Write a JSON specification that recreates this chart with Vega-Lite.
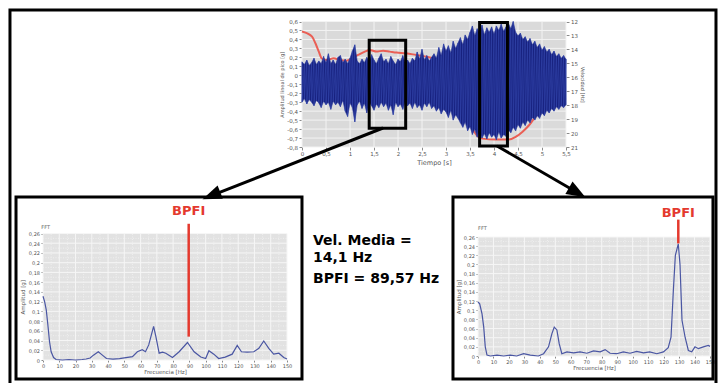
{
  "$schema": "https://vega.github.io/schema/vega-lite/v6.json",
  "width": 718,
  "height": 383,
  "autosize": {"type": "none"},
  "padding": 0,
  "background": "white",
  "config": {
    "view": {"stroke": null},
    "font": "DejaVu Sans",
    "locale": {"number": {"decimal": ",", "thousands": ".", "grouping": [3], "currency": ["", " €"], "minus": "-"}},
    "axis": {
      "labelFont": "DejaVu Sans", "labelFontSize": 5, "labelColor": "#555555",
      "titleFont": "DejaVu Sans", "titleFontSize": 5.5, "titleFontWeight": "normal", "titleColor": "#555555",
      "tickColor": "#8a8a8a", "tickSize": 2, "domain": false, "grid": false,
      "labelPadding": 1.5, "labelOverlap": false, "labelFlush": false
    }
  },
  "data": {"values": [{}]},
  "datasets": {
    "tGrid": [{"t": 0}, {"t": 0.5}, {"t": 1}, {"t": 1.5}, {"t": 2}, {"t": 2.5}, {"t": 3}, {"t": 3.5}, {"t": 4}, {"t": 4.5}, {"t": 5}, {"t": 5.5}],
    "aGrid": [{"a": -0.8}, {"a": -0.7}, {"a": -0.6}, {"a": -0.5}, {"a": -0.4}, {"a": -0.3}, {"a": -0.2}, {"a": -0.1}, {"a": 0}, {"a": 0.1}, {"a": 0.2}, {"a": 0.3}, {"a": 0.4}, {"a": 0.5}, {"a": 0.6}],
    "fGrid": [{"f": 0}, {"f": 10}, {"f": 20}, {"f": 30}, {"f": 40}, {"f": 50}, {"f": 60}, {"f": 70}, {"f": 80}, {"f": 90}, {"f": 100}, {"f": 110}, {"f": 120}, {"f": 130}, {"f": 140}, {"f": 150}],
    "fMinor": [{"f": 5}, {"f": 15}, {"f": 25}, {"f": 35}, {"f": 45}, {"f": 55}, {"f": 65}, {"f": 75}, {"f": 85}, {"f": 95}, {"f": 105}, {"f": 115}, {"f": 125}, {"f": 135}, {"f": 145}],
    "gGrid": [{"g": 0}, {"g": 0.02}, {"g": 0.04}, {"g": 0.06}, {"g": 0.08}, {"g": 0.1}, {"g": 0.12}, {"g": 0.14}, {"g": 0.16}, {"g": 0.18}, {"g": 0.2}, {"g": 0.22}, {"g": 0.24}, {"g": 0.26}],
    "gMinor": [{"g": 0.01}, {"g": 0.03}, {"g": 0.05}, {"g": 0.07}, {"g": 0.09}, {"g": 0.11}, {"g": 0.13}, {"g": 0.15}, {"g": 0.17}, {"g": 0.19}, {"g": 0.21}, {"g": 0.23}, {"g": 0.25}],
    "velocidad": [
      {"t": 0, "hz": 12.72}, {"t": 0.1, "hz": 12.84}, {"t": 0.21, "hz": 13.08}, {"t": 0.28, "hz": 13.56},
      {"t": 0.35, "hz": 14.16}, {"t": 0.41, "hz": 14.64}, {"t": 0.52, "hz": 14.76}, {"t": 0.66, "hz": 14.64},
      {"t": 0.79, "hz": 14.76}, {"t": 0.93, "hz": 14.81}, {"t": 1.04, "hz": 14.64}, {"t": 1.17, "hz": 14.4},
      {"t": 1.31, "hz": 14.16}, {"t": 1.41, "hz": 14.04}, {"t": 1.55, "hz": 14.16}, {"t": 1.69, "hz": 14.09},
      {"t": 1.83, "hz": 14.16}, {"t": 1.97, "hz": 14.23}, {"t": 2.17, "hz": 14.28}, {"t": 2.38, "hz": 14.4},
      {"t": 2.59, "hz": 14.52}, {"t": 2.73, "hz": 14.64}, {"t": 2.86, "hz": 14.88}, {"t": 3.0, "hz": 15.36},
      {"t": 3.14, "hz": 16.32}, {"t": 3.31, "hz": 18.12}, {"t": 3.42, "hz": 18.84}, {"t": 3.55, "hz": 19.68},
      {"t": 3.66, "hz": 20.23}, {"t": 3.76, "hz": 20.4}, {"t": 4.04, "hz": 20.47}, {"t": 4.31, "hz": 20.47},
      {"t": 4.45, "hz": 20.28}, {"t": 4.59, "hz": 19.92}, {"t": 4.73, "hz": 19.44}, {"t": 4.86, "hz": 18.84},
      {"t": 5.0, "hz": 18.24}, {"t": 5.2, "hz": 17.8}, {"t": 5.5, "hz": 17.5}
    ],
    "senal": [
      {"t": 0.00, "hi": 0.15, "lo": -0.30}, {"t": 0.05, "hi": 0.12, "lo": -0.26}, {"t": 0.10, "hi": 0.17, "lo": -0.32},
      {"t": 0.15, "hi": 0.11, "lo": -0.27}, {"t": 0.20, "hi": 0.14, "lo": -0.30}, {"t": 0.25, "hi": 0.19, "lo": -0.34},
      {"t": 0.30, "hi": 0.12, "lo": -0.28}, {"t": 0.35, "hi": 0.16, "lo": -0.31}, {"t": 0.40, "hi": 0.13, "lo": -0.36},
      {"t": 0.45, "hi": 0.21, "lo": -0.29}, {"t": 0.50, "hi": 0.14, "lo": -0.33}, {"t": 0.55, "hi": 0.24, "lo": -0.30},
      {"t": 0.60, "hi": 0.13, "lo": -0.38}, {"t": 0.65, "hi": 0.17, "lo": -0.29}, {"t": 0.70, "hi": 0.12, "lo": -0.33},
      {"t": 0.75, "hi": 0.20, "lo": -0.30}, {"t": 0.80, "hi": 0.22, "lo": -0.35}, {"t": 0.85, "hi": 0.14, "lo": -0.28},
      {"t": 0.90, "hi": 0.18, "lo": -0.40}, {"t": 0.95, "hi": 0.13, "lo": -0.46}, {"t": 1.00, "hi": 0.19, "lo": -0.31},
      {"t": 1.05, "hi": 0.27, "lo": -0.36}, {"t": 1.10, "hi": 0.34, "lo": -0.52}, {"t": 1.15, "hi": 0.16, "lo": -0.33},
      {"t": 1.20, "hi": 0.13, "lo": -0.29}, {"t": 1.25, "hi": 0.18, "lo": -0.37}, {"t": 1.30, "hi": 0.14, "lo": -0.31},
      {"t": 1.35, "hi": 0.20, "lo": -0.42}, {"t": 1.40, "hi": 0.15, "lo": -0.30}, {"t": 1.45, "hi": 0.23, "lo": -0.34},
      {"t": 1.50, "hi": 0.17, "lo": -0.39}, {"t": 1.55, "hi": 0.13, "lo": -0.32}, {"t": 1.60, "hi": 0.19, "lo": -0.36},
      {"t": 1.65, "hi": 0.24, "lo": -0.30}, {"t": 1.70, "hi": 0.15, "lo": -0.35}, {"t": 1.75, "hi": 0.18, "lo": -0.31},
      {"t": 1.80, "hi": 0.13, "lo": -0.39}, {"t": 1.85, "hi": 0.21, "lo": -0.33}, {"t": 1.90, "hi": 0.16, "lo": -0.44},
      {"t": 1.95, "hi": 0.12, "lo": -0.30}, {"t": 2.00, "hi": 0.18, "lo": -0.35}, {"t": 2.05, "hi": 0.15, "lo": -0.32},
      {"t": 2.10, "hi": 0.22, "lo": -0.38}, {"t": 2.15, "hi": 0.14, "lo": -0.29}, {"t": 2.20, "hi": 0.17, "lo": -0.34},
      {"t": 2.25, "hi": 0.13, "lo": -0.31}, {"t": 2.30, "hi": 0.19, "lo": -0.37}, {"t": 2.35, "hi": 0.16, "lo": -0.30},
      {"t": 2.40, "hi": 0.26, "lo": -0.36}, {"t": 2.45, "hi": 0.18, "lo": -0.33}, {"t": 2.50, "hi": 0.29, "lo": -0.39},
      {"t": 2.55, "hi": 0.17, "lo": -0.31}, {"t": 2.60, "hi": 0.22, "lo": -0.35}, {"t": 2.65, "hi": 0.16, "lo": -0.30},
      {"t": 2.70, "hi": 0.20, "lo": -0.37}, {"t": 2.75, "hi": 0.24, "lo": -0.34}, {"t": 2.80, "hi": 0.19, "lo": -0.40},
      {"t": 2.85, "hi": 0.31, "lo": -0.36}, {"t": 2.90, "hi": 0.22, "lo": -0.43}, {"t": 2.95, "hi": 0.35, "lo": -0.38},
      {"t": 3.00, "hi": 0.27, "lo": -0.41}, {"t": 3.05, "hi": 0.33, "lo": -0.47}, {"t": 3.10, "hi": 0.25, "lo": -0.39},
      {"t": 3.15, "hi": 0.38, "lo": -0.50}, {"t": 3.20, "hi": 0.30, "lo": -0.44}, {"t": 3.25, "hi": 0.36, "lo": -0.48},
      {"t": 3.30, "hi": 0.42, "lo": -0.53}, {"t": 3.35, "hi": 0.34, "lo": -0.58}, {"t": 3.40, "hi": 0.45, "lo": -0.52},
      {"t": 3.45, "hi": 0.40, "lo": -0.62}, {"t": 3.50, "hi": 0.48, "lo": -0.57}, {"t": 3.55, "hi": 0.55, "lo": -0.66},
      {"t": 3.60, "hi": 0.44, "lo": -0.60}, {"t": 3.65, "hi": 0.52, "lo": -0.69}, {"t": 3.70, "hi": 0.47, "lo": -0.63},
      {"t": 3.75, "hi": 0.56, "lo": -0.70}, {"t": 3.80, "hi": 0.45, "lo": -0.65}, {"t": 3.85, "hi": 0.53, "lo": -0.71},
      {"t": 3.90, "hi": 0.48, "lo": -0.64}, {"t": 3.95, "hi": 0.54, "lo": -0.69}, {"t": 4.00, "hi": 0.46, "lo": -0.66},
      {"t": 4.05, "hi": 0.55, "lo": -0.72}, {"t": 4.10, "hi": 0.50, "lo": -0.63}, {"t": 4.15, "hi": 0.57, "lo": -0.70},
      {"t": 4.20, "hi": 0.49, "lo": -0.66}, {"t": 4.25, "hi": 0.54, "lo": -0.68}, {"t": 4.30, "hi": 0.58, "lo": -0.61},
      {"t": 4.35, "hi": 0.52, "lo": -0.64}, {"t": 4.40, "hi": 0.60, "lo": -0.58}, {"t": 4.45, "hi": 0.48, "lo": -0.62},
      {"t": 4.50, "hi": 0.44, "lo": -0.55}, {"t": 4.55, "hi": 0.47, "lo": -0.59}, {"t": 4.60, "hi": 0.40, "lo": -0.52},
      {"t": 4.65, "hi": 0.43, "lo": -0.56}, {"t": 4.70, "hi": 0.37, "lo": -0.50}, {"t": 4.75, "hi": 0.41, "lo": -0.53},
      {"t": 4.80, "hi": 0.34, "lo": -0.47}, {"t": 4.85, "hi": 0.38, "lo": -0.50}, {"t": 4.90, "hi": 0.31, "lo": -0.45},
      {"t": 4.95, "hi": 0.35, "lo": -0.48}, {"t": 5.00, "hi": 0.28, "lo": -0.42}, {"t": 5.05, "hi": 0.32, "lo": -0.45},
      {"t": 5.10, "hi": 0.26, "lo": -0.39}, {"t": 5.15, "hi": 0.29, "lo": -0.42}, {"t": 5.20, "hi": 0.23, "lo": -0.37},
      {"t": 5.25, "hi": 0.27, "lo": -0.40}, {"t": 5.30, "hi": 0.21, "lo": -0.35}, {"t": 5.35, "hi": 0.24, "lo": -0.38},
      {"t": 5.40, "hi": 0.19, "lo": -0.34}, {"t": 5.45, "hi": 0.22, "lo": -0.36}, {"t": 5.50, "hi": 0.18, "lo": -0.33}
    ],
    "ventanas": [
      {"t0": 1.4, "t1": 2.16, "a0": -0.59, "a1": 0.39},
      {"t0": 3.7, "t1": 4.28, "a0": -0.79, "a1": 0.59}
    ],
    "fftLenta": [
      {"f": 0, "amp": 0.131}, {"f": 1, "amp": 0.12}, {"f": 2, "amp": 0.103}, {"f": 3, "amp": 0.072},
      {"f": 4, "amp": 0.038}, {"f": 5, "amp": 0.017}, {"f": 6.5, "amp": 0.005}, {"f": 8, "amp": 0.001},
      {"f": 12, "amp": 0.0}, {"f": 16, "amp": 0.001}, {"f": 20, "amp": 0.0}, {"f": 24, "amp": 0.001},
      {"f": 26.5, "amp": 0.002}, {"f": 29, "amp": 0.004}, {"f": 31, "amp": 0.01}, {"f": 34, "amp": 0.017},
      {"f": 36.5, "amp": 0.01}, {"f": 39, "amp": 0.003}, {"f": 43, "amp": 0.002}, {"f": 47, "amp": 0.003},
      {"f": 51, "amp": 0.005}, {"f": 55, "amp": 0.007}, {"f": 58, "amp": 0.017}, {"f": 61, "amp": 0.021},
      {"f": 63, "amp": 0.017}, {"f": 65, "amp": 0.031}, {"f": 68, "amp": 0.069}, {"f": 69.4, "amp": 0.048},
      {"f": 71.4, "amp": 0.014}, {"f": 73.5, "amp": 0.016}, {"f": 75.5, "amp": 0.014}, {"f": 79.6, "amp": 0.005},
      {"f": 83.7, "amp": 0.017}, {"f": 88.8, "amp": 0.036}, {"f": 92.9, "amp": 0.017}, {"f": 97, "amp": 0.006},
      {"f": 100, "amp": 0.003}, {"f": 102, "amp": 0.019}, {"f": 105, "amp": 0.012}, {"f": 108, "amp": 0.003},
      {"f": 112, "amp": 0.006}, {"f": 116.3, "amp": 0.012}, {"f": 119.4, "amp": 0.03}, {"f": 122, "amp": 0.017},
      {"f": 125.5, "amp": 0.016}, {"f": 129.6, "amp": 0.017}, {"f": 132.7, "amp": 0.024}, {"f": 135.7, "amp": 0.039},
      {"f": 138.8, "amp": 0.024}, {"f": 141.8, "amp": 0.012}, {"f": 145, "amp": 0.014}, {"f": 148, "amp": 0.005},
      {"f": 150, "amp": 0.002}
    ],
    "fftRapida": [
      {"f": 0, "amp": 0.118}, {"f": 1.1, "amp": 0.114}, {"f": 2.6, "amp": 0.092}, {"f": 3.7, "amp": 0.063},
      {"f": 4.7, "amp": 0.02}, {"f": 5.8, "amp": 0.002}, {"f": 8, "amp": 0.0}, {"f": 12.3, "amp": 0.002},
      {"f": 16.6, "amp": 0.0}, {"f": 20.9, "amp": 0.002}, {"f": 25, "amp": 0.0}, {"f": 29.5, "amp": 0.005},
      {"f": 33.8, "amp": 0.002}, {"f": 39, "amp": 0.0}, {"f": 42.4, "amp": 0.005}, {"f": 45.6, "amp": 0.02},
      {"f": 47.8, "amp": 0.049}, {"f": 49.3, "amp": 0.063}, {"f": 51, "amp": 0.057}, {"f": 52.5, "amp": 0.027},
      {"f": 54.2, "amp": 0.005}, {"f": 57.5, "amp": 0.009}, {"f": 61.8, "amp": 0.007}, {"f": 66, "amp": 0.009},
      {"f": 70.4, "amp": 0.006}, {"f": 74.7, "amp": 0.011}, {"f": 79, "amp": 0.009}, {"f": 82.2, "amp": 0.014},
      {"f": 85.4, "amp": 0.006}, {"f": 89.7, "amp": 0.005}, {"f": 94, "amp": 0.009}, {"f": 98.3, "amp": 0.006},
      {"f": 102.6, "amp": 0.01}, {"f": 107, "amp": 0.007}, {"f": 111, "amp": 0.009}, {"f": 115.6, "amp": 0.005},
      {"f": 119.9, "amp": 0.009}, {"f": 123, "amp": 0.018}, {"f": 124.8, "amp": 0.041}, {"f": 126.3, "amp": 0.143},
      {"f": 127.6, "amp": 0.22}, {"f": 129.5, "amp": 0.245}, {"f": 130.6, "amp": 0.2}, {"f": 131.9, "amp": 0.078},
      {"f": 133.9, "amp": 0.041}, {"f": 136, "amp": 0.012}, {"f": 138.2, "amp": 0.009}, {"f": 140.3, "amp": 0.02},
      {"f": 142.5, "amp": 0.016}, {"f": 145.7, "amp": 0.02}, {"f": 148.9, "amp": 0.023}, {"f": 150, "amp": 0.021}
    ],
    "marcos": [
      {"x0": 0.0139, "x1": 0.9972, "y0": 0.0261, "y1": 1.005},
      {"x0": 0.0223, "x1": 0.4206, "y0": 0.5144, "y1": 0.9896},
      {"x0": 0.6309, "x1": 0.993, "y0": 0.5144, "y1": 0.9896}
    ],
    "flechas": [
      {"x0": 0.5334, "y0": 0.3342, "x1": 0.2944, "y1": 0.511},
      {"x0": 0.6922, "y0": 0.3812, "x1": 0.8039, "y1": 0.5026}
    ]
  },
  "resolve": {
    "scale": {"x": "independent", "y": "independent"},
    "axis": {"x": "independent", "y": "independent"}
  },
  "layer": [
    {
      "mark": {"type": "rect", "fill": "#dadada"},
      "encoding": {
        "x": {"datum": 0, "type": "quantitative", "scale": {"domain": [0, 5.5], "range": [302, 566], "nice": false, "zero": false}, "axis": null},
        "x2": {"datum": 5.5},
        "y": {"datum": -0.8, "type": "quantitative", "scale": {"domain": [-0.8, 0.6], "range": [147, 21.5], "nice": false, "zero": false}, "axis": null},
        "y2": {"datum": 0.6}
      }
    },
    {
      "data": {"name": "tGrid"},
      "mark": {"type": "rule", "color": "#f3f3f3", "strokeWidth": 1},
      "encoding": {
        "x": {"field": "t", "type": "quantitative", "scale": {"domain": [0, 5.5], "range": [302, 566], "nice": false, "zero": false},
          "axis": {"orient": "bottom", "offset": -236, "values": [0, 0.5, 1, 1.5, 2, 2.5, 3, 3.5, 4, 4.5, 5, 5.5], "format": ".1~f",
            "title": "Tiempo [s]", "labelFontSize": 5.5, "tickSize": 3, "titleFontSize": 6.5, "titlePadding": 2}},
        "y": {"datum": -0.8, "type": "quantitative", "scale": {"domain": [-0.8, 0.6], "range": [147, 21.5], "nice": false, "zero": false}, "axis": null},
        "y2": {"datum": 0.6}
      }
    },
    {
      "data": {"name": "aGrid"},
      "mark": {"type": "rule", "color": "#f3f3f3", "strokeWidth": 1},
      "encoding": {
        "y": {"field": "a", "type": "quantitative", "scale": {"domain": [-0.8, 0.6], "range": [147, 21.5], "nice": false, "zero": false},
          "axis": {"orient": "left", "offset": -302, "values": [-0.8, -0.7, -0.6, -0.5, -0.4, -0.3, -0.2, -0.1, 0, 0.1, 0.2, 0.3, 0.4, 0.5, 0.6], "format": ".1~f",
            "title": "Amplitud lineal de pico [g]", "labelFontSize": 5.5, "tickSize": 3, "titleFontSize": 5, "titlePadding": 2}},
        "x": {"datum": 0, "type": "quantitative", "scale": {"domain": [0, 5.5], "range": [302, 566], "nice": false, "zero": false}, "axis": null},
        "x2": {"datum": 5.5}
      }
    },
    {
      "data": {"name": "velocidad"},
      "mark": {"type": "line", "color": "#ea5f55", "strokeWidth": 2, "interpolate": "monotone"},
      "encoding": {
        "x": {"field": "t", "type": "quantitative", "scale": {"domain": [0, 5.5], "range": [302, 566], "nice": false, "zero": false}, "axis": null},
        "y": {"field": "hz", "type": "quantitative", "scale": {"domain": [12, 21], "range": [21.5, 147], "nice": false, "zero": false},
          "axis": {"orient": "right", "offset": -152, "values": [12, 13, 14, 15, 16, 17, 18, 19, 20, 21], "format": "d",
            "title": "Velocidad [Hz]", "labelFontSize": 5.5, "tickSize": 3, "titleFontSize": 5, "titlePadding": 2}}
      }
    },
    {
      "data": {"name": "senal"},
      "mark": {"type": "area", "color": "#17217f", "stroke": "#2a3aa0", "strokeWidth": 0.6},
      "encoding": {
        "x": {"field": "t", "type": "quantitative", "scale": {"domain": [0, 5.5], "range": [302, 566], "nice": false, "zero": false}, "axis": null},
        "y": {"field": "hi", "type": "quantitative", "scale": {"domain": [-0.8, 0.6], "range": [147, 21.5], "nice": false, "zero": false}, "axis": null},
        "y2": {"field": "lo"}
      }
    },
    {
      "data": {"name": "senal"},
      "transform": [{"fold": ["hi", "lo"], "as": ["extremo", "valor"]}],
      "mark": {"type": "line", "color": "#3447ad", "strokeWidth": 0.7, "opacity": 0.85},
      "encoding": {
        "x": {"field": "t", "type": "quantitative", "scale": {"domain": [0, 5.5], "range": [302, 566], "nice": false, "zero": false}, "axis": null},
        "y": {"field": "valor", "type": "quantitative", "scale": {"domain": [-0.8, 0.6], "range": [147, 21.5], "nice": false, "zero": false}, "axis": null},
        "order": [{"field": "t", "type": "quantitative"}, {"field": "extremo", "type": "nominal"}]
      }
    },
    {
      "data": {"name": "ventanas"},
      "mark": {"type": "rect", "fillOpacity": 0, "stroke": "#000000", "strokeWidth": 3},
      "encoding": {
        "x": {"field": "t0", "type": "quantitative", "scale": {"domain": [0, 5.5], "range": [302, 566], "nice": false, "zero": false}, "axis": null},
        "x2": {"field": "t1"},
        "y": {"field": "a0", "type": "quantitative", "scale": {"domain": [-0.8, 0.6], "range": [147, 21.5], "nice": false, "zero": false}, "axis": null},
        "y2": {"field": "a1"}
      }
    },

    {
      "mark": {"type": "rect", "fill": "#e2e2e2"},
      "encoding": {
        "x": {"datum": 0, "type": "quantitative", "scale": {"domain": [0, 150], "range": [43, 287], "nice": false, "zero": false}, "axis": null},
        "x2": {"datum": 150},
        "y": {"datum": 0, "type": "quantitative", "scale": {"domain": [0, 0.26], "range": [360, 233.5], "nice": false, "zero": false}, "axis": null},
        "y2": {"datum": 0.26}
      }
    },
    {
      "data": {"name": "fMinor"},
      "mark": {"type": "rule", "color": "#f2f2f2", "strokeWidth": 0.8, "strokeDash": [1, 1.5]},
      "encoding": {
        "x": {"field": "f", "type": "quantitative", "scale": {"domain": [0, 150], "range": [43, 287], "nice": false, "zero": false}, "axis": null},
        "y": {"datum": 0, "type": "quantitative", "scale": {"domain": [0, 0.26], "range": [360, 233.5], "nice": false, "zero": false}, "axis": null},
        "y2": {"datum": 0.26}
      }
    },
    {
      "data": {"name": "gMinor"},
      "mark": {"type": "rule", "color": "#f2f2f2", "strokeWidth": 0.8, "strokeDash": [1, 1.5]},
      "encoding": {
        "y": {"field": "g", "type": "quantitative", "scale": {"domain": [0, 0.26], "range": [360, 233.5], "nice": false, "zero": false}, "axis": null},
        "x": {"datum": 0, "type": "quantitative", "scale": {"domain": [0, 150], "range": [43, 287], "nice": false, "zero": false}, "axis": null},
        "x2": {"datum": 150}
      }
    },
    {
      "data": {"name": "fGrid"},
      "mark": {"type": "rule", "color": "#f6f6f6", "strokeWidth": 1},
      "encoding": {
        "x": {"field": "f", "type": "quantitative", "scale": {"domain": [0, 150], "range": [43, 287], "nice": false, "zero": false},
          "axis": {"orient": "bottom", "offset": -23, "values": [0, 10, 20, 30, 40, 50, 60, 70, 80, 90, 100, 110, 120, 130, 140, 150], "format": "d", "title": "Frecuencia [Hz]", "titlePadding": 1}},
        "y": {"datum": 0, "type": "quantitative", "scale": {"domain": [0, 0.26], "range": [360, 233.5], "nice": false, "zero": false}, "axis": null},
        "y2": {"datum": 0.26}
      }
    },
    {
      "data": {"name": "gGrid"},
      "mark": {"type": "rule", "color": "#f6f6f6", "strokeWidth": 1},
      "encoding": {
        "y": {"field": "g", "type": "quantitative", "scale": {"domain": [0, 0.26], "range": [360, 233.5], "nice": false, "zero": false},
          "axis": {"orient": "left", "offset": -43, "values": [0, 0.02, 0.04, 0.06, 0.08, 0.1, 0.12, 0.14, 0.16, 0.18, 0.2, 0.22, 0.24, 0.26], "format": ".2~f", "title": "Amplitud [g]", "titlePadding": 3}},
        "x": {"datum": 0, "type": "quantitative", "scale": {"domain": [0, 150], "range": [43, 287], "nice": false, "zero": false}, "axis": null},
        "x2": {"datum": 150}
      }
    },
    {
      "data": {"name": "fftLenta"},
      "mark": {"type": "line", "color": "#4a56a3", "strokeWidth": 1.2},
      "encoding": {
        "x": {"field": "f", "type": "quantitative", "scale": {"domain": [0, 150], "range": [43, 287], "nice": false, "zero": false}, "axis": null},
        "y": {"field": "amp", "type": "quantitative", "scale": {"domain": [0, 0.26], "range": [360, 233.5], "nice": false, "zero": false}, "axis": null}
      }
    },
    {
      "mark": {"type": "rule", "color": "#e4392e", "strokeWidth": 2.5},
      "encoding": {
        "x": {"datum": 89.57, "type": "quantitative", "scale": {"domain": [0, 150], "range": [43, 287], "nice": false, "zero": false}, "axis": null},
        "y": {"datum": 0.048, "type": "quantitative", "scale": {"domain": [0, 0.26], "range": [360, 233.5], "nice": false, "zero": false}, "axis": null},
        "y2": {"datum": 0.28}
      }
    },
    {
      "mark": {"type": "text", "text": "BPFI", "color": "#e4392e", "font": "DejaVu Sans", "fontWeight": "bold", "fontSize": 13, "align": "center", "baseline": "alphabetic"},
      "encoding": {
        "x": {"datum": 89.57, "type": "quantitative", "scale": {"domain": [0, 150], "range": [43, 287], "nice": false, "zero": false}, "axis": null},
        "y": {"datum": 0.297, "type": "quantitative", "scale": {"domain": [0, 0.26], "range": [360, 233.5], "nice": false, "zero": false}, "axis": null}
      }
    },
    {
      "mark": {"type": "text", "text": "FFT", "color": "#666666", "fontSize": 5, "align": "left", "baseline": "alphabetic"},
      "encoding": {
        "x": {"datum": -1, "type": "quantitative", "scale": {"domain": [0, 150], "range": [43, 287], "nice": false, "zero": false}, "axis": null},
        "y": {"datum": 0.27, "type": "quantitative", "scale": {"domain": [0, 0.26], "range": [360, 233.5], "nice": false, "zero": false}, "axis": null}
      }
    },

    {
      "mark": {"type": "rect", "fill": "#e2e2e2"},
      "encoding": {
        "x": {"datum": 0, "type": "quantitative", "scale": {"domain": [0, 150], "range": [478, 710], "nice": false, "zero": false}, "axis": null},
        "x2": {"datum": 150},
        "y": {"datum": 0, "type": "quantitative", "scale": {"domain": [0, 0.26], "range": [356, 237], "nice": false, "zero": false}, "axis": null},
        "y2": {"datum": 0.26}
      }
    },
    {
      "data": {"name": "fMinor"},
      "mark": {"type": "rule", "color": "#f2f2f2", "strokeWidth": 0.8, "strokeDash": [1, 1.5]},
      "encoding": {
        "x": {"field": "f", "type": "quantitative", "scale": {"domain": [0, 150], "range": [478, 710], "nice": false, "zero": false}, "axis": null},
        "y": {"datum": 0, "type": "quantitative", "scale": {"domain": [0, 0.26], "range": [356, 237], "nice": false, "zero": false}, "axis": null},
        "y2": {"datum": 0.26}
      }
    },
    {
      "data": {"name": "gMinor"},
      "mark": {"type": "rule", "color": "#f2f2f2", "strokeWidth": 0.8, "strokeDash": [1, 1.5]},
      "encoding": {
        "y": {"field": "g", "type": "quantitative", "scale": {"domain": [0, 0.26], "range": [356, 237], "nice": false, "zero": false}, "axis": null},
        "x": {"datum": 0, "type": "quantitative", "scale": {"domain": [0, 150], "range": [478, 710], "nice": false, "zero": false}, "axis": null},
        "x2": {"datum": 150}
      }
    },
    {
      "data": {"name": "fGrid"},
      "mark": {"type": "rule", "color": "#f6f6f6", "strokeWidth": 1},
      "encoding": {
        "x": {"field": "f", "type": "quantitative", "scale": {"domain": [0, 150], "range": [478, 710], "nice": false, "zero": false},
          "axis": {"orient": "bottom", "offset": -27, "values": [0, 10, 20, 30, 40, 50, 60, 70, 80, 90, 100, 110, 120, 130, 140, 150], "format": "d", "title": "Frecuencia [Hz]", "titlePadding": 1}},
        "y": {"datum": 0, "type": "quantitative", "scale": {"domain": [0, 0.26], "range": [356, 237], "nice": false, "zero": false}, "axis": null},
        "y2": {"datum": 0.26}
      }
    },
    {
      "data": {"name": "gGrid"},
      "mark": {"type": "rule", "color": "#f6f6f6", "strokeWidth": 1},
      "encoding": {
        "y": {"field": "g", "type": "quantitative", "scale": {"domain": [0, 0.26], "range": [356, 237], "nice": false, "zero": false},
          "axis": {"orient": "left", "offset": -478, "values": [0, 0.02, 0.04, 0.06, 0.08, 0.1, 0.12, 0.14, 0.16, 0.18, 0.2, 0.22, 0.24, 0.26], "format": ".2~f", "title": "Amplitud [g]", "titlePadding": 2}},
        "x": {"datum": 0, "type": "quantitative", "scale": {"domain": [0, 150], "range": [478, 710], "nice": false, "zero": false}, "axis": null},
        "x2": {"datum": 150}
      }
    },
    {
      "data": {"name": "fftRapida"},
      "mark": {"type": "line", "color": "#4a56a3", "strokeWidth": 1.2},
      "encoding": {
        "x": {"field": "f", "type": "quantitative", "scale": {"domain": [0, 150], "range": [478, 710], "nice": false, "zero": false}, "axis": null},
        "y": {"field": "amp", "type": "quantitative", "scale": {"domain": [0, 0.26], "range": [356, 237], "nice": false, "zero": false}, "axis": null}
      }
    },
    {
      "mark": {"type": "rule", "color": "#e4392e", "strokeWidth": 2.5},
      "encoding": {
        "x": {"datum": 129.5, "type": "quantitative", "scale": {"domain": [0, 150], "range": [478, 710], "nice": false, "zero": false}, "axis": null},
        "y": {"datum": 0.246, "type": "quantitative", "scale": {"domain": [0, 0.26], "range": [356, 237], "nice": false, "zero": false}, "axis": null},
        "y2": {"datum": 0.298}
      }
    },
    {
      "mark": {"type": "text", "text": "BPFI", "color": "#e4392e", "font": "DejaVu Sans", "fontWeight": "bold", "fontSize": 13, "align": "center", "baseline": "alphabetic"},
      "encoding": {
        "x": {"datum": 129.5, "type": "quantitative", "scale": {"domain": [0, 150], "range": [478, 710], "nice": false, "zero": false}, "axis": null},
        "y": {"datum": 0.304, "type": "quantitative", "scale": {"domain": [0, 0.26], "range": [356, 237], "nice": false, "zero": false}, "axis": null}
      }
    },
    {
      "mark": {"type": "text", "text": "FFT", "color": "#666666", "fontSize": 5, "align": "left", "baseline": "alphabetic"},
      "encoding": {
        "x": {"datum": 0, "type": "quantitative", "scale": {"domain": [0, 150], "range": [478, 710], "nice": false, "zero": false}, "axis": null},
        "y": {"datum": 0.275, "type": "quantitative", "scale": {"domain": [0, 0.26], "range": [356, 237], "nice": false, "zero": false}, "axis": null}
      }
    },

    {
      "data": {"name": "marcos"},
      "mark": {"type": "rect", "fillOpacity": 0, "stroke": "#000000", "strokeWidth": 3},
      "encoding": {
        "x": {"field": "x0", "type": "quantitative", "scale": {"domain": [0, 1], "range": [0, 718], "nice": false, "zero": false}, "axis": null},
        "x2": {"field": "x1"},
        "y": {"field": "y0", "type": "quantitative", "scale": {"domain": [0, 1], "range": [0, 383], "nice": false, "zero": false}, "axis": null},
        "y2": {"field": "y1"}
      }
    },
    {
      "data": {"name": "flechas"},
      "mark": {"type": "rule", "color": "#000000", "strokeWidth": 3},
      "encoding": {
        "x": {"field": "x0", "type": "quantitative", "scale": {"domain": [0, 1], "range": [0, 718], "nice": false, "zero": false}, "axis": null},
        "x2": {"field": "x1"},
        "y": {"field": "y0", "type": "quantitative", "scale": {"domain": [0, 1], "range": [0, 383], "nice": false, "zero": false}, "axis": null},
        "y2": {"field": "y1"}
      }
    },
    {
      "mark": {"type": "point", "shape": "M0,-1L0.75,1L-0.75,1Z", "filled": true, "color": "#000000", "opacity": 1, "size": 361, "angle": 248.5},
      "encoding": {
        "x": {"datum": 0.2944, "type": "quantitative", "scale": {"domain": [0, 1], "range": [0, 718], "nice": false, "zero": false}, "axis": null},
        "y": {"datum": 0.511, "type": "quantitative", "scale": {"domain": [0, 1], "range": [0, 383], "nice": false, "zero": false}, "axis": null}
      }
    },
    {
      "mark": {"type": "point", "shape": "M0,-1L0.75,1L-0.75,1Z", "filled": true, "color": "#000000", "opacity": 1, "size": 361, "angle": 120.1},
      "encoding": {
        "x": {"datum": 0.8039, "type": "quantitative", "scale": {"domain": [0, 1], "range": [0, 718], "nice": false, "zero": false}, "axis": null},
        "y": {"datum": 0.5026, "type": "quantitative", "scale": {"domain": [0, 1], "range": [0, 383], "nice": false, "zero": false}, "axis": null}
      }
    },
    {
      "mark": {"type": "text", "text": ["Vel. Media =", "14,1 Hz"], "lineHeight": 16.7, "color": "#000000", "font": "DejaVu Sans", "fontWeight": "bold", "fontSize": 14, "align": "left", "baseline": "alphabetic"},
      "encoding": {
        "x": {"datum": 0.4359, "type": "quantitative", "scale": {"domain": [0, 1], "range": [0, 718], "nice": false, "zero": false}, "axis": null},
        "y": {"datum": 0.6397, "type": "quantitative", "scale": {"domain": [0, 1], "range": [0, 383], "nice": false, "zero": false}, "axis": null}
      }
    },
    {
      "mark": {"type": "text", "text": "BPFI = 89,57 Hz", "color": "#000000", "font": "DejaVu Sans", "fontWeight": "bold", "fontSize": 14, "align": "left", "baseline": "alphabetic"},
      "encoding": {
        "x": {"datum": 0.4359, "type": "quantitative", "scale": {"domain": [0, 1], "range": [0, 718], "nice": false, "zero": false}, "axis": null},
        "y": {"datum": 0.7397, "type": "quantitative", "scale": {"domain": [0, 1], "range": [0, 383], "nice": false, "zero": false}, "axis": null}
      }
    }
  ]
}
